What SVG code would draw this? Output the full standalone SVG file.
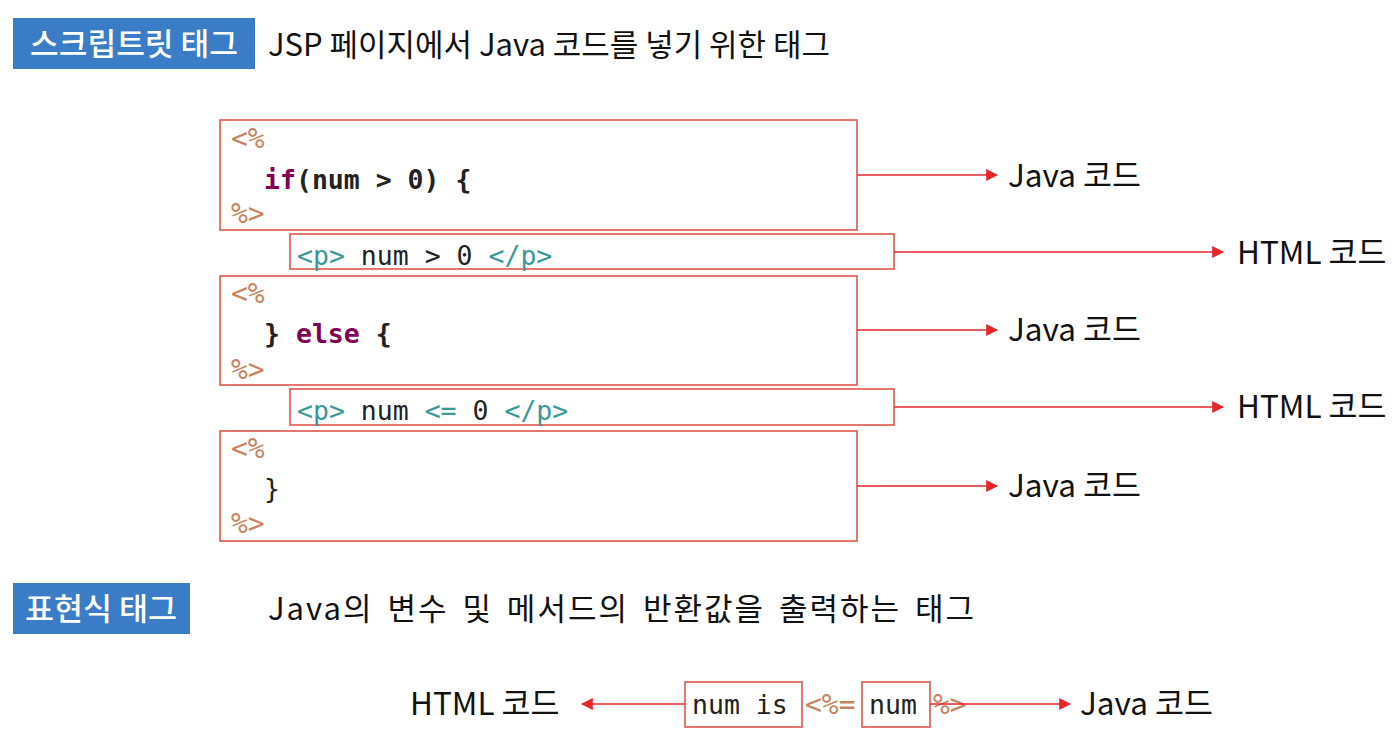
<svg xmlns="http://www.w3.org/2000/svg" width="1398" height="734" viewBox="0 0 1398 734">
<defs>
<marker id="ah" viewBox="0 0 10 10" refX="9" refY="5" markerWidth="12" markerHeight="12" markerUnits="userSpaceOnUse" orient="auto-start-reverse">
<path d="M0,0 L10,5 L0,10 z" fill="#e8262a"/>
</marker>
<style>
.badge{fill:#3a7dc6}
.badgeT{font-family:"Noto Sans CJK KR","Noto Sans",sans-serif;font-size:31px;fill:#fff;font-weight:500}
.sub{font-family:"Noto Sans CJK KR","Noto Sans",sans-serif;font-size:31px;fill:#111}
.lbl{font-family:"Noto Sans CJK KR","Noto Sans",sans-serif;font-size:31.5px;fill:#111}
.box{fill:none;stroke:#e0564c;stroke-width:1.6}
.code{font-family:"DejaVu Sans Mono","Liberation Mono",monospace;font-size:26.5px;fill:#222}
.kw{fill:#7f0055;font-weight:bold}
.tag{fill:#c8835f;font-size:28px}
.ht{fill:#3a9898}
.conn{stroke:#e8262a;stroke-width:1.6;fill:none}
</style>
</defs>
<rect width="1398" height="734" fill="#fff"/>

<g id="header1">
<rect class="badge" x="13" y="18" width="242" height="51"/>
<text class="badgeT" x="134" y="55" text-anchor="middle" textLength="208" lengthAdjust="spacingAndGlyphs">스크립트릿 태그</text>
<text class="sub" x="268" y="56" textLength="562" lengthAdjust="spacingAndGlyphs">JSP 페이지에서 Java 코드를 넣기 위한 태그</text>
</g>

<g id="java1">
<rect class="box" x="220" y="120" width="637" height="110"/>
<text class="code tag" x="231" y="148">&lt;%</text>
<text class="code" x="264" y="189" font-weight="bold"><tspan class="kw">if</tspan>(num &gt; 0) {</text>
<text class="code tag" x="231" y="223">%&gt;</text>
</g>

<g id="html1">
<rect class="box" x="290" y="234" width="604" height="35"/>
<text class="code" x="297" y="265"><tspan class="ht">&lt;p&gt;</tspan> num &gt; 0 <tspan class="ht">&lt;/p&gt;</tspan></text>
</g>

<g id="java2">
<rect class="box" x="220" y="276" width="637" height="109"/>
<text class="code tag" x="231" y="303">&lt;%</text>
<text class="code" x="264" y="343" font-weight="bold">} <tspan class="kw">else</tspan> {</text>
<text class="code tag" x="231" y="379">%&gt;</text>
</g>

<g id="html2">
<rect class="box" x="290" y="389" width="604" height="36"/>
<text class="code" x="297" y="420"><tspan class="ht">&lt;p&gt;</tspan> num <tspan class="ht">&lt;=</tspan> 0 <tspan class="ht">&lt;/p&gt;</tspan></text>
</g>

<g id="java3">
<rect class="box" x="220" y="431" width="637" height="110"/>
<text class="code tag" x="231" y="458">&lt;%</text>
<text class="code" x="264" y="498">}</text>
<text class="code tag" x="231" y="533">%&gt;</text>
</g>

<g id="labels">
<text class="lbl" x="1008" y="187">Java 코드</text>
<text class="lbl" x="1237" y="264">HTML 코드</text>
<text class="lbl" x="1008" y="341">Java 코드</text>
<text class="lbl" x="1237" y="418">HTML 코드</text>
<text class="lbl" x="1008" y="497">Java 코드</text>
</g>

<g id="header2">
<rect class="badge" x="13" y="583" width="177" height="51"/>
<text class="badgeT" x="101" y="620" text-anchor="middle" textLength="152" lengthAdjust="spacingAndGlyphs">표현식 태그</text>
<text class="sub" x="268" y="620" letter-spacing="2" word-spacing="5">Java의 변수 및 메서드의 반환값을 출력하는 태그</text>
</g>

<g id="expr">
<rect class="box" x="685" y="682" width="117" height="45"/>
<text class="code" x="692" y="714">num is</text>
<text class="code tag" x="805" y="714">&lt;%=</text>
<rect class="box" x="862" y="682" width="68" height="45"/>
<text class="code" x="869" y="714">num</text>
<text class="code tag" x="933" y="714">%&gt;</text>
<text class="lbl" x="410" y="715">HTML 코드</text>
<text class="lbl" x="1080" y="715">Java 코드</text>
</g>

<g id="connectors">
<line class="conn" x1="857" y1="175" x2="997" y2="175" marker-end="url(#ah)"/>
<line class="conn" x1="894" y1="252" x2="1223" y2="252" marker-end="url(#ah)"/>
<line class="conn" x1="857" y1="330" x2="997" y2="330" marker-end="url(#ah)"/>
<line class="conn" x1="894" y1="407" x2="1223" y2="407" marker-end="url(#ah)"/>
<line class="conn" x1="857" y1="486" x2="997" y2="486" marker-end="url(#ah)"/>
<line class="conn" x1="685" y1="704" x2="582" y2="704" marker-end="url(#ah)"/>
<line class="conn" x1="930" y1="704" x2="1070" y2="704" marker-end="url(#ah)"/>
</g>
</svg>
